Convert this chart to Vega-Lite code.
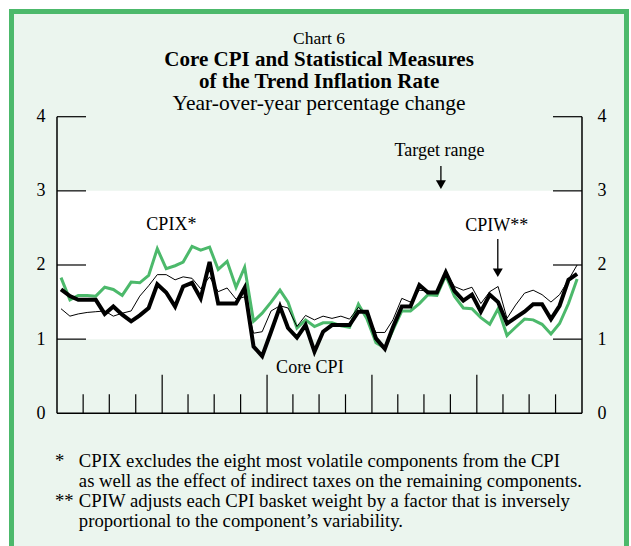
{
  "$schema": "https://vega.github.io/schema/vega-lite/v6.json",
  "width": 615,
  "height": 538.5,
  "autosize": {"type": "none"},
  "padding": {"left": 11.5, "top": 11.5, "right": 4.5, "bottom": -4},
  "background": "white",
  "config": {
    "view": {"fill": "#ebf5ee", "stroke": "#4cb96b", "strokeWidth": 5},
    "font": "Liberation Serif",
    "text": {"font": "Liberation Serif", "color": "black"}
  },
  "datasets": {
    "series": [
      {"date": "1996-01-15", "core": 1.67, "cpix": 1.83, "cpiw": 1.41},
      {"date": "1996-02-15", "core": 1.58, "cpix": 1.53, "cpiw": 1.31},
      {"date": "1996-03-15", "core": 1.53, "cpix": 1.59, "cpiw": 1.34},
      {"date": "1996-04-15", "core": 1.53, "cpix": 1.59, "cpiw": 1.36},
      {"date": "1996-05-15", "core": 1.53, "cpix": 1.58, "cpiw": 1.37},
      {"date": "1996-06-15", "core": 1.34, "cpix": 1.70, "cpiw": 1.38},
      {"date": "1996-07-15", "core": 1.44, "cpix": 1.67, "cpiw": 1.31},
      {"date": "1996-08-15", "core": 1.33, "cpix": 1.59, "cpiw": 1.35},
      {"date": "1996-09-15", "core": 1.24, "cpix": 1.77, "cpiw": 1.38},
      {"date": "1996-10-15", "core": 1.32, "cpix": 1.76, "cpiw": 1.58},
      {"date": "1996-11-15", "core": 1.42, "cpix": 1.86, "cpiw": 1.72},
      {"date": "1996-12-15", "core": 1.74, "cpix": 2.22, "cpiw": 1.87},
      {"date": "1997-01-15", "core": 1.63, "cpix": 1.95, "cpiw": 1.87},
      {"date": "1997-02-15", "core": 1.44, "cpix": 1.99, "cpiw": 1.80},
      {"date": "1997-03-15", "core": 1.71, "cpix": 2.04, "cpiw": 1.84},
      {"date": "1997-04-15", "core": 1.76, "cpix": 2.25, "cpiw": 1.82},
      {"date": "1997-05-15", "core": 1.55, "cpix": 2.20, "cpiw": 1.68},
      {"date": "1997-06-15", "core": 2.04, "cpix": 2.24, "cpiw": 1.84},
      {"date": "1997-07-15", "core": 1.48, "cpix": 1.94, "cpiw": 1.64},
      {"date": "1997-08-15", "core": 1.48, "cpix": 2.05, "cpiw": 1.69},
      {"date": "1997-09-15", "core": 1.48, "cpix": 1.70, "cpiw": 1.54},
      {"date": "1997-10-15", "core": 1.69, "cpix": 1.97, "cpiw": 1.57},
      {"date": "1997-11-15", "core": 0.90, "cpix": 1.24, "cpiw": 1.08},
      {"date": "1997-12-15", "core": 0.77, "cpix": 1.35, "cpiw": 1.10},
      {"date": "1998-01-15", "core": 1.10, "cpix": 1.50, "cpiw": 1.38},
      {"date": "1998-02-15", "core": 1.44, "cpix": 1.66, "cpiw": 1.45},
      {"date": "1998-03-15", "core": 1.15, "cpix": 1.50, "cpiw": 1.42},
      {"date": "1998-04-15", "core": 1.02, "cpix": 1.15, "cpiw": 1.17},
      {"date": "1998-05-15", "core": 1.19, "cpix": 1.26, "cpiw": 1.32},
      {"date": "1998-06-15", "core": 0.83, "cpix": 1.17, "cpiw": 1.26},
      {"date": "1998-07-15", "core": 1.10, "cpix": 1.22, "cpiw": 1.31},
      {"date": "1998-08-15", "core": 1.19, "cpix": 1.22, "cpiw": 1.28},
      {"date": "1998-09-15", "core": 1.19, "cpix": 1.18, "cpiw": 1.31},
      {"date": "1998-10-15", "core": 1.19, "cpix": 1.16, "cpiw": 1.27},
      {"date": "1998-11-15", "core": 1.37, "cpix": 1.47, "cpiw": 1.43},
      {"date": "1998-12-15", "core": 1.37, "cpix": 1.27, "cpiw": 1.32},
      {"date": "1999-01-15", "core": 1.01, "cpix": 0.95, "cpiw": 1.09},
      {"date": "1999-02-15", "core": 0.87, "cpix": 0.88, "cpiw": 1.09},
      {"date": "1999-03-15", "core": 1.16, "cpix": 1.12, "cpiw": 1.26},
      {"date": "1999-04-15", "core": 1.44, "cpix": 1.38, "cpiw": 1.55},
      {"date": "1999-05-15", "core": 1.44, "cpix": 1.38, "cpiw": 1.50},
      {"date": "1999-06-15", "core": 1.73, "cpix": 1.48, "cpiw": 1.66},
      {"date": "1999-07-15", "core": 1.63, "cpix": 1.60, "cpiw": 1.65},
      {"date": "1999-08-15", "core": 1.63, "cpix": 1.59, "cpiw": 1.62},
      {"date": "1999-09-15", "core": 1.90, "cpix": 1.86, "cpiw": 1.91},
      {"date": "1999-10-15", "core": 1.65, "cpix": 1.58, "cpiw": 1.71},
      {"date": "1999-11-15", "core": 1.52, "cpix": 1.42, "cpiw": 1.66},
      {"date": "1999-12-15", "core": 1.60, "cpix": 1.41, "cpiw": 1.70},
      {"date": "2000-01-15", "core": 1.37, "cpix": 1.29, "cpiw": 1.48},
      {"date": "2000-02-15", "core": 1.60, "cpix": 1.20, "cpiw": 1.64},
      {"date": "2000-03-15", "core": 1.50, "cpix": 1.41, "cpiw": 1.71},
      {"date": "2000-04-15", "core": 1.21, "cpix": 1.05, "cpiw": 1.28},
      {"date": "2000-05-15", "core": 1.29, "cpix": 1.16, "cpiw": 1.46},
      {"date": "2000-06-15", "core": 1.37, "cpix": 1.27, "cpiw": 1.62},
      {"date": "2000-07-15", "core": 1.47, "cpix": 1.26, "cpiw": 1.66},
      {"date": "2000-08-15", "core": 1.47, "cpix": 1.20, "cpiw": 1.60},
      {"date": "2000-09-15", "core": 1.27, "cpix": 1.07, "cpiw": 1.50},
      {"date": "2000-10-15", "core": 1.45, "cpix": 1.21, "cpiw": 1.60},
      {"date": "2000-11-15", "core": 1.80, "cpix": 1.48, "cpiw": 1.80},
      {"date": "2000-12-15", "core": 1.88, "cpix": 1.81, "cpiw": 2.00}
    ],
    "levels": [{"v": 1}, {"v": 2}, {"v": 3}, {"v": 4}],
    "one": [{}]
  },
  "resolve": {"axis": {"y": "independent"}},
  "layer": [
    {
      "data": {"values": [{"start": "1996-01-01", "end": "2001-01-01", "lo": 1, "hi": 3}]},
      "mark": {"type": "rect", "fill": "white"},
      "encoding": {
        "x": {"field": "start", "type": "temporal", "axis": null},
        "x2": {"field": "end"},
        "y": {"field": "lo", "type": "quantitative", "axis": null},
        "y2": {"field": "hi"}
      }
    },
    {
      "data": {"name": "series"},
      "mark": {"type": "line", "color": "#4cb96b", "strokeWidth": 3},
      "encoding": {
        "x": {"field": "date", "type": "temporal", "axis": null},
        "y": {"field": "cpix", "type": "quantitative", "axis": null}
      }
    },
    {
      "data": {"name": "series"},
      "mark": {"type": "line", "color": "black", "strokeWidth": 1},
      "encoding": {
        "x": {"field": "date", "type": "temporal", "axis": null},
        "y": {"field": "cpiw", "type": "quantitative", "axis": null}
      }
    },
    {
      "data": {"name": "series"},
      "mark": {"type": "line", "color": "black", "strokeWidth": 4},
      "encoding": {
        "x": {
          "field": "date", "type": "temporal",
          "scale": {"type": "utc", "nice": false, "domain": [
            {"year": 1995, "month": 7, "date": 26, "hours": 16, "utc": true},
            {"year": 2001, "month": 6, "date": 4, "hours": 21, "utc": true}
          ]},
          "axis": {
            "orient": "bottom", "offset": -136.7, "title": null,
            "values": [
              {"year": 1996, "month": 7, "date": 2, "utc": true},
              {"year": 1997, "month": 7, "date": 2, "utc": true},
              {"year": 1998, "month": 7, "date": 2, "utc": true},
              {"year": 1999, "month": 7, "date": 2, "utc": true},
              {"year": 2000, "month": 7, "date": 2, "utc": true}
            ],
            "format": "%Y", "domain": false, "ticks": false, "tickSize": 0, "grid": false,
            "labelPadding": 18, "labelFont": "Liberation Serif", "labelFontSize": 18, "labelColor": "black"
          }
        },
        "y": {
          "field": "core", "type": "quantitative",
          "scale": {"domain": [-1.844, 5.419], "nice": false, "zero": false},
          "axis": {
            "orient": "left", "offset": -45.5, "title": null, "values": [0, 1, 2, 3, 4], "format": "d",
            "domain": false, "ticks": false, "tickSize": 0, "grid": false,
            "labelPadding": 12, "labelFont": "Liberation Serif", "labelFontSize": 18, "labelColor": "black"
          }
        }
      }
    },
    {
      "data": {"values": [{"d": "1996-01-01"}, {"d": "2001-01-01"}]},
      "mark": {"type": "rule", "color": "black", "strokeWidth": 1.5},
      "encoding": {
        "x": {"field": "d", "type": "temporal", "axis": null},
        "y": {
          "datum": 0, "type": "quantitative",
          "axis": {
            "orient": "right", "offset": -44.5, "title": null, "values": [0, 1, 2, 3, 4], "format": "d",
            "domain": false, "ticks": false, "tickSize": 0, "grid": false,
            "labelPadding": 15, "labelFont": "Liberation Serif", "labelFontSize": 18, "labelColor": "black"
          }
        },
        "y2": {"datum": 4}
      }
    },
    {
      "data": {"values": [{"s": "1996-01-01", "e": "2001-01-01"}]},
      "mark": {"type": "rule", "color": "black", "strokeWidth": 1.5},
      "encoding": {
        "x": {"field": "s", "type": "temporal", "axis": null},
        "x2": {"field": "e"},
        "y": {"datum": 0, "type": "quantitative", "axis": null}
      }
    },
    {
      "data": {"name": "levels"},
      "mark": {"type": "rule", "color": "black", "strokeWidth": 1.2},
      "encoding": {
        "x": {"datum": {"year": 1996, "month": 1, "date": 1, "utc": true}, "type": "temporal", "axis": null},
        "x2": {"datum": {"year": 1996, "month": 4, "date": 11, "utc": true}},
        "y": {"field": "v", "type": "quantitative", "axis": null}
      }
    },
    {
      "data": {"name": "levels"},
      "mark": {"type": "rule", "color": "black", "strokeWidth": 1.2},
      "encoding": {
        "x": {"datum": {"year": 2000, "month": 9, "date": 22, "utc": true}, "type": "temporal", "axis": null},
        "x2": {"datum": {"year": 2001, "month": 1, "date": 1, "utc": true}},
        "y": {"field": "v", "type": "quantitative", "axis": null}
      }
    },
    {
      "data": {"values": [
        {"d": "1996-04-01"}, {"d": "1996-07-01"}, {"d": "1996-10-01"},
        {"d": "1997-04-01"}, {"d": "1997-07-01"}, {"d": "1997-10-01"},
        {"d": "1998-04-01"}, {"d": "1998-07-01"}, {"d": "1998-10-01"},
        {"d": "1999-04-01"}, {"d": "1999-07-01"}, {"d": "1999-10-01"},
        {"d": "2000-04-01"}, {"d": "2000-07-01"}, {"d": "2000-10-01"}
      ]},
      "mark": {"type": "rule", "color": "black", "strokeWidth": 1.2},
      "encoding": {
        "x": {"field": "d", "type": "temporal", "axis": null},
        "y": {"datum": 0, "type": "quantitative", "axis": null},
        "y2": {"datum": 0.256}
      }
    },
    {
      "data": {"values": [{"d": "1997-01-01"}, {"d": "1998-01-01"}, {"d": "1999-01-01"}, {"d": "2000-01-01"}]},
      "mark": {"type": "rule", "color": "black", "strokeWidth": 1.2},
      "encoding": {
        "x": {"field": "d", "type": "temporal", "axis": null},
        "y": {"datum": 0, "type": "quantitative", "axis": null},
        "y2": {"datum": 0.52}
      }
    },
    {
      "data": {"values": [{"t": "CPIX*"}]},
      "mark": {"type": "text", "fontSize": 18, "align": "center", "baseline": "alphabetic"},
      "encoding": {
        "x": {"datum": {"year": 1997, "month": 2, "date": 2, "utc": true}, "type": "temporal", "axis": null},
        "y": {"datum": 2.472, "type": "quantitative", "axis": null},
        "text": {"field": "t"}
      }
    },
    {
      "data": {"values": [{"t": "CPIW**"}]},
      "mark": {"type": "text", "fontSize": 18, "align": "center", "baseline": "alphabetic"},
      "encoding": {
        "x": {"datum": {"year": 2000, "month": 3, "date": 10, "utc": true}, "type": "temporal", "axis": null},
        "y": {"datum": 2.463, "type": "quantitative", "axis": null},
        "text": {"field": "t"}
      }
    },
    {
      "data": {"values": [{"t": "Core CPI"}]},
      "mark": {"type": "text", "fontSize": 18, "align": "center", "baseline": "alphabetic"},
      "encoding": {
        "x": {"datum": {"year": 1998, "month": 5, "date": 30, "utc": true}, "type": "temporal", "axis": null},
        "y": {"datum": 0.539, "type": "quantitative", "axis": null},
        "text": {"field": "t"}
      }
    },
    {
      "data": {"values": [{"t": "Target range"}]},
      "mark": {"type": "text", "fontSize": 18, "align": "center", "baseline": "alphabetic"},
      "encoding": {
        "x": {"datum": {"year": 1999, "month": 8, "date": 24, "utc": true}, "type": "temporal", "axis": null},
        "y": {"datum": 3.47, "type": "quantitative", "axis": null},
        "text": {"field": "t"}
      }
    },
    {
      "data": {"name": "one"},
      "mark": {"type": "rule", "color": "black", "strokeWidth": 1.3},
      "encoding": {
        "x": {"datum": {"year": 1999, "month": 8, "date": 29, "utc": true}, "type": "temporal", "axis": null},
        "y": {"datum": 3.335, "type": "quantitative", "axis": null},
        "y2": {"datum": 3.1}
      }
    },
    {
      "data": {"name": "one"},
      "mark": {"type": "point", "shape": "triangle-down", "filled": true, "color": "black", "size": 100, "opacity": 1},
      "encoding": {
        "x": {"datum": {"year": 1999, "month": 8, "date": 29, "utc": true}, "type": "temporal", "axis": null},
        "y": {"datum": 3.083, "type": "quantitative", "axis": null}
      }
    },
    {
      "data": {"name": "one"},
      "mark": {"type": "rule", "color": "black", "strokeWidth": 1.3},
      "encoding": {
        "x": {"datum": {"year": 2000, "month": 3, "date": 14, "utc": true}, "type": "temporal", "axis": null},
        "y": {"datum": 2.351, "type": "quantitative", "axis": null},
        "y2": {"datum": 1.92}
      }
    },
    {
      "data": {"name": "one"},
      "mark": {"type": "point", "shape": "triangle-down", "filled": true, "color": "black", "size": 100, "opacity": 1},
      "encoding": {
        "x": {"datum": {"year": 2000, "month": 3, "date": 14, "utc": true}, "type": "temporal", "axis": null},
        "y": {"datum": 1.896, "type": "quantitative", "axis": null}
      }
    },
    {
      "data": {"values": [{"t": "Chart 6"}]},
      "mark": {"type": "text", "fontSize": 17.5, "align": "center", "baseline": "alphabetic"},
      "encoding": {
        "x": {"datum": {"year": 1998, "month": 7, "date": 1, "utc": true}, "type": "temporal", "axis": null},
        "y": {"datum": 4.981, "type": "quantitative", "axis": null},
        "text": {"field": "t"}
      }
    },
    {
      "data": {"values": [{"t": "Core CPI and Statistical Measures"}]},
      "mark": {"type": "text", "fontSize": 21, "fontWeight": "bold", "align": "center", "baseline": "alphabetic"},
      "encoding": {
        "x": {"datum": {"year": 1998, "month": 7, "date": 1, "utc": true}, "type": "temporal", "axis": null},
        "y": {"datum": 4.684, "type": "quantitative", "axis": null},
        "text": {"field": "t"}
      }
    },
    {
      "data": {"values": [{"t": "of the Trend Inflation Rate"}]},
      "mark": {"type": "text", "fontSize": 21, "fontWeight": "bold", "align": "center", "baseline": "alphabetic"},
      "encoding": {
        "x": {"datum": {"year": 1998, "month": 7, "date": 1, "utc": true}, "type": "temporal", "axis": null},
        "y": {"datum": 4.387, "type": "quantitative", "axis": null},
        "text": {"field": "t"}
      }
    },
    {
      "data": {"values": [{"t": "Year-over-year percentage change"}]},
      "mark": {"type": "text", "fontSize": 21.5, "align": "center", "baseline": "alphabetic"},
      "encoding": {
        "x": {"datum": {"year": 1998, "month": 7, "date": 1, "utc": true}, "type": "temporal", "axis": null},
        "y": {"datum": 4.09, "type": "quantitative", "axis": null},
        "text": {"field": "t"}
      }
    },
    {
      "data": {"values": [{"t": "*"}]},
      "mark": {"type": "text", "fontSize": 18.7, "align": "left", "baseline": "alphabetic"},
      "encoding": {
        "x": {"datum": {"year": 1995, "month": 12, "date": 25, "utc": true}, "type": "temporal", "axis": null},
        "y": {"datum": -0.724, "type": "quantitative", "axis": null},
        "text": {"field": "t"}
      }
    },
    {
      "data": {"values": [{"t": "CPIX excludes the eight most volatile components from the CPI"}]},
      "mark": {"type": "text", "fontSize": 18.7, "align": "left", "baseline": "alphabetic"},
      "encoding": {
        "x": {"datum": {"year": 1996, "month": 3, "date": 17, "utc": true}, "type": "temporal", "axis": null},
        "y": {"datum": -0.724, "type": "quantitative", "axis": null},
        "text": {"field": "t"}
      }
    },
    {
      "data": {"values": [{"t": "as well as the effect of  indirect taxes on the remaining components."}]},
      "mark": {"type": "text", "fontSize": 18.7, "align": "left", "baseline": "alphabetic"},
      "encoding": {
        "x": {"datum": {"year": 1996, "month": 3, "date": 17, "utc": true}, "type": "temporal", "axis": null},
        "y": {"datum": -0.994, "type": "quantitative", "axis": null},
        "text": {"field": "t"}
      }
    },
    {
      "data": {"values": [{"t": "**"}]},
      "mark": {"type": "text", "fontSize": 18.7, "align": "left", "baseline": "alphabetic"},
      "encoding": {
        "x": {"datum": {"year": 1995, "month": 12, "date": 25, "utc": true}, "type": "temporal", "axis": null},
        "y": {"datum": -1.264, "type": "quantitative", "axis": null},
        "text": {"field": "t"}
      }
    },
    {
      "data": {"values": [{"t": "CPIW adjusts each CPI basket weight by a factor that is inversely"}]},
      "mark": {"type": "text", "fontSize": 18.7, "align": "left", "baseline": "alphabetic"},
      "encoding": {
        "x": {"datum": {"year": 1996, "month": 3, "date": 17, "utc": true}, "type": "temporal", "axis": null},
        "y": {"datum": -1.264, "type": "quantitative", "axis": null},
        "text": {"field": "t"}
      }
    },
    {
      "data": {"values": [{"t": "proportional to the  component’s variability."}]},
      "mark": {"type": "text", "fontSize": 18.7, "align": "left", "baseline": "alphabetic"},
      "encoding": {
        "x": {"datum": {"year": 1996, "month": 3, "date": 17, "utc": true}, "type": "temporal", "axis": null},
        "y": {"datum": -1.533, "type": "quantitative", "axis": null},
        "text": {"field": "t"}
      }
    }
  ]
}
